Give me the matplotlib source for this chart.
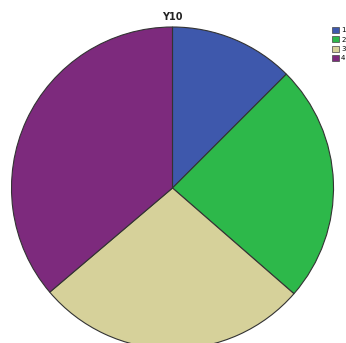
import matplotlib
matplotlib.use("Agg")
import matplotlib.pyplot as plt
from matplotlib.patches import Patch

categories = ["1", "2", "3", "4"]
values = [12.5, 23.9, 27.4, 36.2]
colors = ["#3E58AC", "#2DB84A", "#D6D19A", "#7D2A7D"]

W, H = 346, 343
fig = plt.figure(figsize=(W / 100, H / 100), dpi=100)
ax = fig.add_axes([0, 0, 1, 1])

ax.pie(values, colors=colors, startangle=90, counterclock=False,
       center=(172.5, H - 188), radius=161,
       wedgeprops=dict(edgecolor="#333333", linewidth=0.8))

# pie() resets the limits, so fix the pixel-based frame afterwards
ax.set_xlim(0, W)
ax.set_ylim(0, H)
ax.set_aspect("equal")
ax.axis("off")

ax.text(172, H - 17, "Y10", ha="center", va="center",
        fontsize=7, fontweight="bold", color="#222222")

handles = [Patch(facecolor=c, edgecolor="#444444", linewidth=0.5) for c in colors]
leg = ax.legend(handles, categories, loc="upper left",
                bbox_to_anchor=(332 / W, 1 - 27 / H), bbox_transform=fig.transFigure,
                fontsize=5, frameon=False, handlelength=1.0, handleheight=1.0,
                handletextpad=0.3, labelspacing=0.4, borderpad=0, borderaxespad=0)

fig.savefig("out.png", dpi=100)
